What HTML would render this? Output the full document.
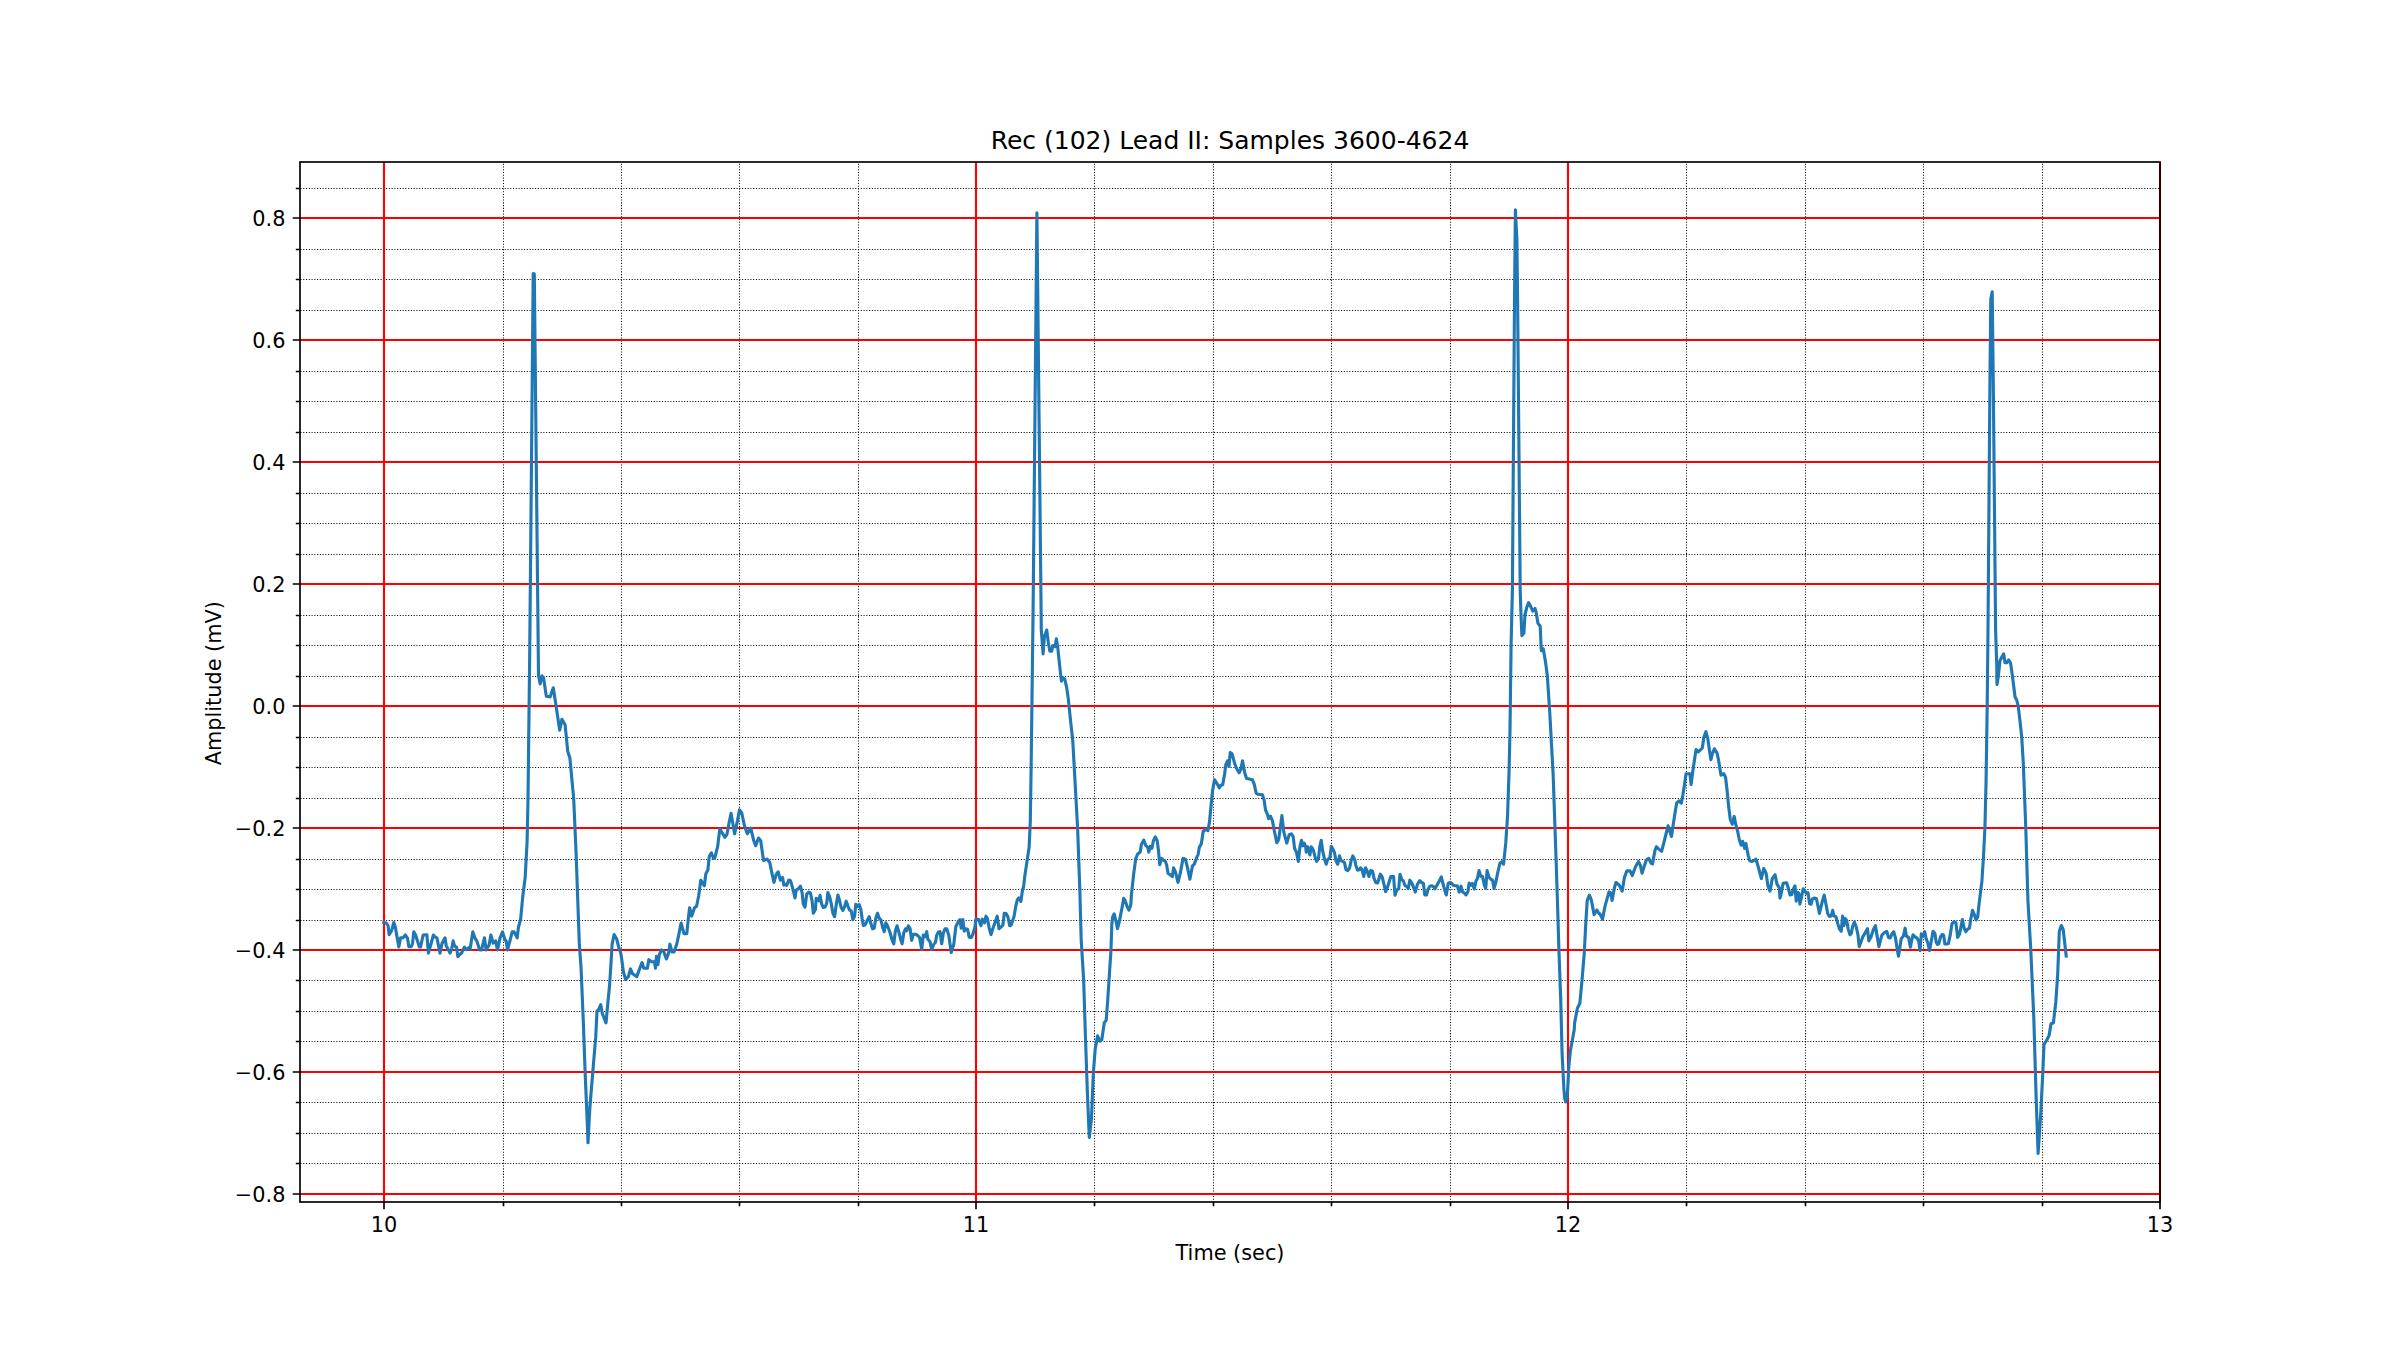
<!DOCTYPE html><html><head><meta charset="utf-8"><title>ECG</title><style>html,body{margin:0;padding:0;background:#fff;overflow:hidden}svg{display:block}text{font-family:"DejaVu Sans","Liberation Sans",sans-serif;fill:#000}</style></head><body>
<svg width="2400" height="1350" viewBox="0 0 2400 1350">
<rect width="2400" height="1350" fill="#fff"/>
<path d="M300.5 1163.5H2160.5M300.5 1133.5H2160.5M300.5 1102.5H2160.5M300.5 1041.5H2160.5M300.5 1011.5H2160.5M300.5 980.5H2160.5M300.5 920.5H2160.5M300.5 889.5H2160.5M300.5 859.5H2160.5M300.5 798.5H2160.5M300.5 767.5H2160.5M300.5 737.5H2160.5M300.5 676.5H2160.5M300.5 645.5H2160.5M300.5 615.5H2160.5M300.5 554.5H2160.5M300.5 523.5H2160.5M300.5 493.5H2160.5M300.5 432.5H2160.5M300.5 401.5H2160.5M300.5 371.5H2160.5M300.5 310.5H2160.5M300.5 279.5H2160.5M300.5 249.5H2160.5M300.5 188.5H2160.5M503.5 1202.5V162.5M621.5 1202.5V162.5M739.5 1202.5V162.5M858.5 1202.5V162.5M1094.5 1202.5V162.5M1213.5 1202.5V162.5M1331.5 1202.5V162.5M1450.5 1202.5V162.5M1686.5 1202.5V162.5M1805.5 1202.5V162.5M1923.5 1202.5V162.5M2042.5 1202.5V162.5" stroke="#000" stroke-width="1.04" stroke-dasharray="1.04 1.72" fill="none"/>
<path d="M300 1194H2160M300 1072H2160M300 950H2160M300 828H2160M300 706H2160M300 584H2160M300 462H2160M300 340H2160M300 218H2160M384 1202V162M976 1202V162M1568 1202V162M2160 1202V162" stroke="#f00" stroke-width="2.08" fill="none"/>
<path d="M383.8 922.5 386.2 923.1 388.1 925.6 389.1 934.7 391.6 930.6 393.8 922.5 395.3 926.9 398.8 946.9 400.6 937.8 403.1 937.8 405.3 935 407.5 938.1 408.8 946.6 411.2 946.6 412.5 943.8 413.8 931.9 415.6 935 419.4 946.9 420.6 946.9 423.1 935 426.9 934.7 428.4 953.1 430 947.5 433.4 935 435 936.9 436.9 937.8 440 953.1 441.9 943.8 445 937.8 446.2 945.6 450 953.1 451.6 949.4 453.1 940.9 454.7 946.2 456.6 947.2 457.8 956.6 460 954.1 461.6 953.1 464.4 947.2 466.2 949.7 469.1 947.5 470 949.4 472.8 931.9 475 938.1 476.9 941.2 479.7 950 481.6 950 484.4 937.8 486.2 950 489.1 945 490.9 935 493.1 943.1 495.6 940.9 497.5 950 500 938.1 502.5 931.9 505 940 506.2 940.9 507.5 950 510 940.6 512.2 931.9 514.1 931.9 517.2 937.8 518.4 927.5 520.6 919.4 522.8 896.1 525.2 877.1 527.1 841.6 528 799 529.7 655 533.2 273.5 534.3 274 538.3 655 538.5 675.4 540.2 684 542 675.9 543.6 678.1 546.3 696.3 550.1 696.9 553.3 687.8 556 705.5 559.7 730.2 561.9 719.4 565.1 724.8 567.8 751.6 569.9 758.1 573.7 798.9 576.1 853.4 579.3 943.4 581.1 968.7 583.4 1023.9 585.1 1071.8 587.4 1126.3 588 1142.8 589.8 1108.5 592.8 1071.8 595.7 1037.4 597 1011.1 598.7 1009.5 600.7 1004.6 602.3 1013.6 604 1017.6 606 1022.9 608 1001.4 609.6 985.1 610.9 964.8 612.1 944.4 614.1 934.6 616.6 938.7 618.6 946.9 620.6 952.5 621.3 956.2 623.4 971.7 625.6 979.4 628.4 976.6 630.5 968.9 632.6 973.8 636.8 976.6 639.6 968.9 642 962.5 643.8 968.2 647.4 968.2 648.8 959.7 651.6 961.8 654.4 961.8 655.5 968.2 656.5 956.2 657.9 964.6 659.3 954.8 661.4 949.9 663.6 951.3 666.4 959 668.5 953.4 669.9 944.2 672 952 674.1 952 676.9 943.5 679 933.7 681.1 923.1 684 933.7 686.8 933.7 688.2 919.6 689.6 907.7 691.7 916.1 694.5 907.7 696.6 906.2 698.7 895.7 700.8 880.2 704.4 885.8 705.8 873.9 707.9 869.7 709.3 856.3 711.4 852.8 713.5 858.4 714.9 857.7 717.7 846.4 719.8 828.8 722.7 833.8 724.8 837.3 726.9 834.5 729 823.2 731.1 813.4 734.6 833.8 737.4 821.1 739.5 809.9 741.7 812.7 744.5 826 747.3 833.8 750.8 828.1 753.6 840.1 755.7 845.7 758.5 838 760.7 840.8 763.5 860.5 767 859.1 769.8 862.6 771.9 873.2 774 882.3 776.1 874.6 778.2 871.8 780.4 880.2 782.5 877.4 783.9 885.1 785 884.2 786.7 885.4 788.8 880 790.4 880.4 792.5 887.5 795 897.9 796.2 890 798.3 888.8 800.4 886.2 802.1 892.5 803.3 904.2 805 907.1 806.7 894.2 808.8 892.1 810.4 892.9 812.1 900.8 813.3 913.3 815.4 909.6 816.2 898.3 817.5 899.2 818.8 900.8 820 895.4 821.7 904.2 823.3 907.5 825 907.1 826.7 903.3 827.9 892.5 829.6 896.7 831.2 903.3 832.9 913.3 834.6 916.7 836.2 905 837.9 895 839.6 900.8 841.2 907.5 842.9 910.4 844.6 906.7 846.2 901.2 848.3 907.1 849.6 910 851.2 910.8 852.9 919.6 854.6 916.2 855.8 904.2 857.5 906.7 859.2 904.6 860.8 909.2 862.1 918.3 863.3 925.4 865 925 867.1 920.8 869.2 916.7 870.8 923.3 872.5 928.8 874.2 928.3 875.8 918.3 877.5 913.3 879.2 918.3 880.8 919.6 882.5 926.7 884.2 931.7 885.8 922.9 887.5 925.8 890 932.5 892.1 940 893.8 943.8 895.4 930.8 897.1 925.8 899.2 933.3 900.8 940 902.1 943.8 903.8 932.9 905.4 928.8 906.7 930.8 908.3 925.8 910 928.3 911.7 940.4 913.3 934.2 915.8 934.2 917.5 935.4 919.6 937.5 921.7 949.6 923.3 935 925 936.7 926.7 931.7 927.9 939.2 930 941.7 931.7 949.6 933.8 944.2 935.4 942.5 936.7 935.4 938.3 932.1 940 931.7 941.7 943.8 943.3 933.3 945 928.8 946.7 928.8 948.8 935.4 951.2 952.5 953.8 944.2 955.8 926.7 958.3 921.7 960 919.6 961.2 928.3 962.9 919.6 964.2 931.2 965.8 928.8 967.5 929.2 969.2 937.1 971.2 937.5 972.9 934.2 975 926.9 975.9 919.2 978.6 919.2 980.9 925.7 982.4 919.2 984.5 922.8 986 916.2 987.4 918.6 989.2 928.1 991 934.6 992.8 928.7 994.9 922.8 997.2 916.2 999 928.7 1001.1 926.9 1002.9 925.1 1004.3 913.3 1006.1 913.6 1007.9 916.8 1009.7 925.7 1011.2 925.1 1014.1 916.2 1015.9 905.6 1017.4 899.6 1018.9 897.9 1020.9 901.4 1022.4 890.7 1023.6 886.6 1024.8 875.9 1029.1 847.6 1030.3 821.6 1031.2 762.3 1033.1 610 1036.9 212.7 1041.1 610 1041.3 630 1043.1 653.9 1044.4 636.7 1046.7 630 1048.3 642.2 1049.8 651.1 1051.7 651.1 1052.8 645.6 1055 646.7 1056.4 638.9 1057.8 647.8 1059.4 663.3 1061.4 681.1 1062.8 677.8 1064.7 678.9 1066.7 687.8 1068.3 698.9 1070.6 721.1 1072.8 741.1 1077.6 827.8 1079.8 889.3 1081.2 940 1083.6 978.9 1085.6 1041.2 1087.5 1095.8 1089.3 1137.5 1091.4 1119.1 1093.4 1072.4 1095.2 1049 1097.6 1035.8 1099.9 1041.2 1101.8 1039.7 1104.3 1022.6 1106.2 1020.2 1107.7 1000.7 1109.6 971.2 1111 949.9 1111.8 924.4 1112.7 916.7 1114.2 913.8 1116 921.5 1117.5 928.6 1119.5 920.9 1121.9 908.4 1123.7 898.4 1124.9 900.1 1127 906.1 1128.9 910.2 1130.8 904.9 1131.4 894.9 1133.9 872.2 1135.8 858.4 1137.7 854 1140.2 852.1 1141.4 844.5 1143.7 840.1 1145.9 845.8 1147.7 847.1 1148.8 852.1 1150.3 846.4 1151.9 848.3 1153.4 840.8 1155.3 837 1157.2 840.8 1158.5 850.8 1159.7 864.7 1161.6 858.4 1163.5 860.3 1165.4 861.5 1166.6 864.7 1168.1 873.5 1170.4 874.8 1172.3 876.6 1173.6 867.8 1175.5 872.2 1178 882.3 1180.5 872.2 1183 858.4 1185.3 859 1187.4 867.2 1189.9 879.2 1192.5 865.9 1194.3 864.1 1196.9 857.1 1198.1 854.6 1199.4 847.1 1201.3 843.9 1203.2 831.3 1205.7 829.4 1207.9 830.7 1209.5 821.9 1211.3 803 1212.6 790.4 1214.5 779.7 1217 783.5 1219.3 787.9 1220.8 785.3 1222.7 784.7 1224.6 774 1225.8 764.6 1227.5 760.8 1229 766.4 1230.2 752.6 1232.1 753.9 1234.6 763.3 1236.5 768.3 1239.1 772.7 1240.9 769 1242.5 760.8 1244.7 772.7 1246.6 778.4 1249.1 779 1252.3 779.7 1254.2 784.1 1256.1 792.9 1257.9 794.2 1262.4 794.8 1264.2 800.5 1265.5 809.9 1267.4 814.3 1268.7 818.7 1270.5 816.2 1272.4 820.6 1274.3 830.7 1276.8 842.6 1278.7 839.5 1281.9 815.6 1283.8 831.9 1285 836.7 1286.8 843.1 1289.1 834.8 1291.4 833.9 1293.2 836.7 1294.6 848.6 1296.5 852.2 1298.3 861.4 1300.1 845.8 1301.5 840.3 1302.9 845.8 1304.2 843.1 1305.6 846.7 1306.3 852.2 1307.5 846.7 1308.8 850.4 1309.9 855 1311.1 846.7 1312 847.7 1313.4 850.4 1314.8 855.9 1316.6 861.4 1318.5 858.7 1319.8 846.7 1321.2 840.3 1322.6 850.4 1324.4 858.7 1326.2 864.2 1327.6 859.6 1329.9 857.7 1331.3 846.3 1333.1 849.5 1334.5 852.7 1335.9 860.5 1337.7 864.2 1339.5 855.9 1340.9 860.5 1342.7 861.4 1344.4 862.3 1346 869.7 1347.8 870.6 1349.6 867.8 1351.2 860.5 1352.8 855.9 1354.7 859.6 1356 866 1357.4 870.1 1359.2 869.7 1360.6 867.8 1362 869.7 1363.8 876.5 1365.5 867.8 1367 870.6 1368.9 876.5 1370.7 870.6 1372.5 871 1373.9 877.9 1375.7 882.5 1377.6 883 1379 878.8 1380.3 874.2 1382.2 877 1384 884.3 1385.6 891.7 1387.5 887.1 1389.5 880.7 1390.9 876.5 1393.6 876.5 1395 895.3 1396.8 889.8 1398.7 888.9 1400 874.2 1401.9 879.7 1403.2 880.7 1405.1 885.7 1406.9 886.6 1408.3 888.5 1409.8 880.2 1411.5 882.5 1413.3 886.6 1415.2 892.1 1417.4 884.3 1419.7 880.7 1421.6 882.5 1423.4 883.4 1424.8 894.9 1426.6 894.9 1428 889.4 1429.8 886.2 1431.7 885.7 1433.5 886.6 1434.9 888.9 1437.2 884.8 1439.4 880.7 1441.3 877 1442.7 882.5 1444.5 889.4 1446.3 894.9 1448.2 883.4 1450 882.5 1451.8 883.4 1453.2 885.2 1455 885.7 1457.3 885.7 1459.2 892.1 1461 886.2 1462.4 891.7 1464.2 893 1466 894.9 1467.9 891.7 1469.2 883 1471.1 885.2 1472.4 883.4 1474.3 888.9 1476.1 880.7 1477.5 878.4 1479.1 870.6 1480.7 876.1 1482.5 876.5 1484.4 885.2 1485.7 888.5 1487.1 870.6 1488.9 877 1490.8 879.3 1492.6 880.2 1494 888.5 1495.8 882.5 1497.6 873.3 1499.9 863.2 1501.8 861.9 1503.6 864.2 1505.8 842.4 1507.5 816.6 1509 773.5 1510 730.5 1511.1 644.5 1512.4 590 1514.5 300 1515.4 209.8 1516.9 240 1517.6 300 1520.2 590 1520.9 612.2 1521.9 635.6 1523.9 633 1525 614.5 1526.9 607 1528.6 602.6 1530.6 606.3 1532.8 611.1 1535 608.5 1536.1 612.2 1538 623.4 1540.2 626.3 1541.3 650.8 1543.2 648.6 1545.4 661.2 1547.3 675.2 1549.8 713.3 1553.1 773.5 1556.1 860 1557.6 906.3 1558.9 949.8 1560.7 998.9 1562.1 1053.7 1563 1071.5 1563.9 1089.3 1564.7 1098.2 1565.8 1102 1567.2 1097 1568 1083.3 1568.9 1065.6 1570.4 1050.7 1572.2 1040.7 1574.2 1030 1574.6 1023 1577.4 1008.1 1579.8 1003.5 1582 980.4 1584.3 952.6 1585.7 924.8 1587.2 900.7 1589.4 895.2 1591.3 899.8 1594.1 914.6 1596.9 910 1599.1 913.7 1599.7 913.6 1602.5 919.1 1605.1 905.8 1609 891.9 1610.6 892.6 1612.1 900.4 1614.4 888 1616 882.5 1619.1 884.9 1622.2 891.1 1624.5 877.1 1626.9 870.9 1630 870.9 1632.3 875.5 1635.4 867 1638.5 861.5 1640.4 865.4 1642 873.2 1644 867 1646.3 860 1648.7 858.4 1651 863.1 1652.5 863.9 1654.9 850.6 1656.4 846.7 1658.8 849.1 1661.6 851.4 1664.2 841.3 1666.5 832 1668.1 825.8 1670 832 1671.5 836.6 1673.5 822.6 1675.1 812.5 1676.6 803.2 1679 800.9 1681.3 803.2 1682.9 794.7 1684.4 785.3 1686 773.7 1689.9 773.7 1691.1 784.5 1693 769.8 1694.5 759.7 1696.1 749.5 1698.4 751.9 1702.3 748 1703.9 737.1 1705.9 731.7 1707.8 738.7 1709.3 749.5 1710.9 759.7 1712.4 753.4 1714.4 748.8 1717.1 753.4 1718.6 760.4 1721 775.2 1723.8 773.7 1725.6 777.5 1727.2 791.5 1728.7 807.1 1730.3 819.5 1732.3 824.2 1734.2 816.4 1735.7 824.2 1737.8 832 1739.3 839.8 1741.2 845.2 1742.7 841.3 1744.6 848.3 1745.9 843.6 1748.2 855.3 1749.7 860.7 1752.1 861.5 1756 859.2 1758.3 867 1761.4 878.6 1763.7 868.5 1766.1 873.2 1767.9 885.6 1770 891.1 1772.3 878.6 1775.1 874.7 1777 884.1 1779.3 888 1780 898.1 1781.3 893.2 1783.1 883.2 1786.6 882.7 1788.3 888 1790.1 895 1791.8 894.6 1793.1 889.7 1795 885.8 1796.2 901.1 1797.5 892.4 1798.8 893.2 1799.9 904.2 1801.4 897.6 1803.2 888.9 1804.9 890.6 1806.2 893.2 1808 892.8 1809.6 903.7 1811.1 904.2 1812.4 898.9 1814.1 898.1 1816.3 898.5 1817.6 904.2 1819.4 913.4 1821.1 906.4 1822.4 901.1 1824.2 895 1825.9 903.7 1827.7 913.4 1829.4 916.4 1831.2 916 1832.7 910.3 1833.8 915.6 1836 916.9 1837.7 923.4 1839.5 929.1 1841.2 931.3 1842.6 916 1843.9 925.6 1845.2 918.6 1846.7 920.4 1848.2 929.1 1850 934.8 1851.3 933.5 1852.6 926.5 1854.4 922.1 1856.1 926.5 1857.9 934.4 1859.2 946.6 1860.9 942.2 1862.7 937 1865.3 932.6 1867.5 928.7 1868.8 940.9 1871 937 1873.2 930 1875.4 925.6 1877.1 936.1 1878.9 946.6 1880.6 939.6 1881.9 935.2 1884.5 932.6 1886.7 931.3 1888.5 937.4 1890.2 937.9 1892 933.9 1893.7 931.7 1895.5 937.9 1897.2 949.2 1898.5 956.2 1899.9 947.5 1901.2 938.7 1903.4 936.1 1905.1 928.2 1906.4 936.1 1908.6 937.4 1910.4 947.1 1911.7 940.5 1913 934.8 1915.2 937 1916.9 937.9 1918.7 941.4 1920 950.6 1921.3 933.9 1923 936.1 1924.8 931.7 1926.1 938.7 1927.9 943.1 1929.6 950.6 1931.4 940.5 1933.1 931.3 1934.9 933.5 1936.2 942.2 1937.5 944.4 1938.8 943.6 1940.5 937 1942.3 934.4 1943.6 935.2 1944.9 944 1946.7 944 1948.4 943.6 1950.2 935.2 1951.9 923.9 1954.1 921.7 1955.9 922.6 1957.6 937.4 1959.4 934.4 1960.7 928.2 1962.4 919.5 1964.2 928.2 1965.9 931.7 1967.7 929.1 1969.4 928.2 1970.7 919.5 1972.5 910.3 1974.2 914.2 1976 919.9 1977.7 916.9 1979 904.6 1981.9 881.2 1983.4 857.8 1984.9 828.5 1986.1 780 1987.2 706.1 1988 630 1989.9 385 1990.8 299 1992.2 291.8 1993.3 385 1995.6 630 1996.7 663.3 1997 684.4 1998.3 676.7 2000 660.6 2001.7 657.2 2003.7 653.9 2005 662.8 2006.7 662.8 2008.7 660 2010.6 663.3 2012.2 674.4 2013.9 687.8 2015 696.7 2016.7 700 2018.3 706.7 2020 721.1 2021.7 736.7 2023.3 763.3 2025.8 828.5 2027.9 900 2030.8 950.1 2033.8 1017.9 2036.1 1096.5 2038.1 1153.4 2040.6 1116.1 2042.6 1076.8 2044 1044.4 2046.5 1040.5 2049.1 1035.6 2051 1023.8 2053.4 1022.8 2055.8 1002.2 2057.7 974.7 2059.3 931.4 2061.3 925.5 2063.2 929.5 2066.2 956" stroke="#1f77b4" stroke-width="3.125" fill="none" stroke-linejoin="round" stroke-linecap="square"/>
<rect x="300" y="162" width="1860" height="1040" fill="none" stroke="#000" stroke-width="1.67"/>
<path d="M292.7 1194H300M292.7 1072H300M292.7 950H300M292.7 828H300M292.7 706H300M292.7 584H300M292.7 462H300M292.7 340H300M292.7 218H300M295.8 1163.5H300M295.8 1133.5H300M295.8 1102.5H300M295.8 1041.5H300M295.8 1011.5H300M295.8 980.5H300M295.8 920.5H300M295.8 889.5H300M295.8 859.5H300M295.8 798.5H300M295.8 767.5H300M295.8 737.5H300M295.8 676.5H300M295.8 645.5H300M295.8 615.5H300M295.8 554.5H300M295.8 523.5H300M295.8 493.5H300M295.8 432.5H300M295.8 401.5H300M295.8 371.5H300M295.8 310.5H300M295.8 279.5H300M295.8 249.5H300M295.8 188.5H300M384 1202V1209.3M976 1202V1209.3M1568 1202V1209.3M2160 1202V1209.3M503.5 1202V1206.2M621.5 1202V1206.2M739.5 1202V1206.2M858.5 1202V1206.2M1094.5 1202V1206.2M1213.5 1202V1206.2M1331.5 1202V1206.2M1450.5 1202V1206.2M1686.5 1202V1206.2M1805.5 1202V1206.2M1923.5 1202V1206.2M2042.5 1202V1206.2" stroke="#000" stroke-width="1.67" fill="none"/>
<text x="285.4" y="1201.6" font-size="20.833" text-anchor="end">−0.8</text>
<text x="285.4" y="1079.6" font-size="20.833" text-anchor="end">−0.6</text>
<text x="285.4" y="957.6" font-size="20.833" text-anchor="end">−0.4</text>
<text x="285.4" y="835.6" font-size="20.833" text-anchor="end">−0.2</text>
<text x="285.4" y="713.6" font-size="20.833" text-anchor="end">0.0</text>
<text x="285.4" y="591.6" font-size="20.833" text-anchor="end">0.2</text>
<text x="285.4" y="469.6" font-size="20.833" text-anchor="end">0.4</text>
<text x="285.4" y="347.6" font-size="20.833" text-anchor="end">0.6</text>
<text x="285.4" y="225.6" font-size="20.833" text-anchor="end">0.8</text>
<text x="384" y="1232.3" font-size="20.833" text-anchor="middle">10</text>
<text x="976" y="1232.3" font-size="20.833" text-anchor="middle">11</text>
<text x="1568" y="1232.3" font-size="20.833" text-anchor="middle">12</text>
<text x="2160" y="1232.3" font-size="20.833" text-anchor="middle">13</text>
<text x="1230" y="1259.8" font-size="20.833" text-anchor="middle">Time (sec)</text>
<text transform="translate(221.2 683.2) rotate(-90)" x="0" y="0" font-size="20.833" text-anchor="middle">Amplitude (mV)</text>
<text x="1230" y="149.4" font-size="25" text-anchor="middle">Rec (102) Lead II: Samples 3600-4624</text>
</svg></body></html>
